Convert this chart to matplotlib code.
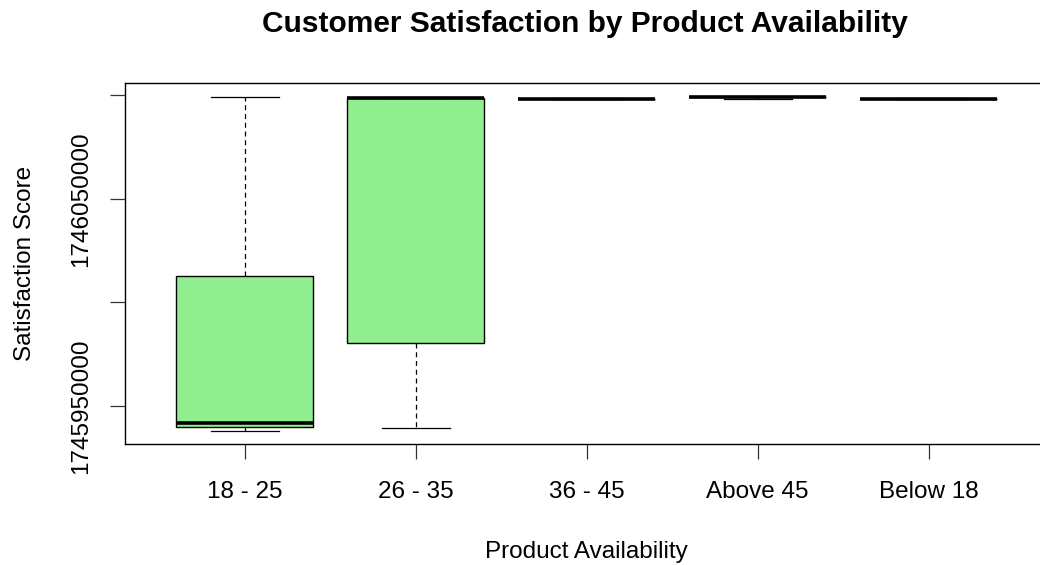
import matplotlib
matplotlib.use("Agg")
import matplotlib.pyplot as plt

# five-number summaries per availability group
groups = ["18 - 25", "26 - 35", "36 - 45", "Above 45", "Below 18"]
whisker_low = [1745938070, 1745939370, 1746098160, 1746098160, 1746098070]
q1 = [1745940000, 1745980430, 1746098160, 1746099420, 1746098070]
median = [1745941930, 1746098550, 1746098160, 1746099420, 1746098070]
q3 = [1746012800, 1746098550, 1746098160, 1746099420, 1746098070]
whisker_high = [1746099275, 1746098550, 1746098160, 1746099420, 1746098070]

ytick_values = [1745950000, 1746000000, 1746050000, 1746100000]
ytick_labels = ["1745950000", "", "1746050000", ""]

plt.rcParams["font.family"] = ["Liberation Sans", "DejaVu Sans"]

stats = []
for i, name in enumerate(groups):
    stats.append({
        "label": name,
        "whislo": whisker_low[i],
        "q1": q1[i],
        "med": median[i],
        "q3": q3[i],
        "whishi": whisker_high[i],
        "fliers": [],
    })

fig = plt.figure(figsize=(10.4, 5.65), dpi=100)
ax = fig.add_axes([0.1202, 0.2142, 0.8879, 0.6384])

positions = list(range(1, len(groups) + 1))
ax.bxp(
    stats,
    positions=positions,
    widths=0.8,
    capwidths=0.4,
    patch_artist=True,
    showfliers=False,
    boxprops=dict(facecolor="#90EE90", edgecolor="black", linewidth=1.0),
    medianprops=dict(color="black", linewidth=2.6, solid_capstyle="butt"),
    whiskerprops=dict(color="black", linewidth=0.9, linestyle=(0, (4, 3))),
    capprops=dict(color="black", linewidth=0.9),
)

# R-style 4% padding on both axes
lo = min(whisker_low)
hi = max(whisker_high)
span = hi - lo
ax.set_ylim(lo - 0.04 * span, hi + 0.04 * span)
ax.set_xlim(0.5 - 0.2, len(groups) + 0.5 + 0.2)

ax.set_xticks(positions)
ax.set_xticklabels(groups, fontsize=17.5)
ax.set_yticks(ytick_values)
ax.set_yticklabels(ytick_labels, fontsize=17.5, rotation=90, va="center")
ax.tick_params(axis="both", length=11, width=0.9, color="#333333")
ax.tick_params(axis="x", pad=16)
ax.tick_params(axis="y", pad=13)

for side in ax.spines.values():
    side.set_linewidth(1.0)
    side.set_color("black")

ax.set_xlabel("Product Availability", fontsize=17.5, labelpad=27)
ax.set_ylabel("Satisfaction Score", fontsize=17.5, labelpad=24)
fig.text(0.5625, 0.958, "Customer Satisfaction by Product Availability",
         ha="center", va="center", fontsize=21.5, fontweight="bold")

fig.savefig("out.png", dpi=100)
